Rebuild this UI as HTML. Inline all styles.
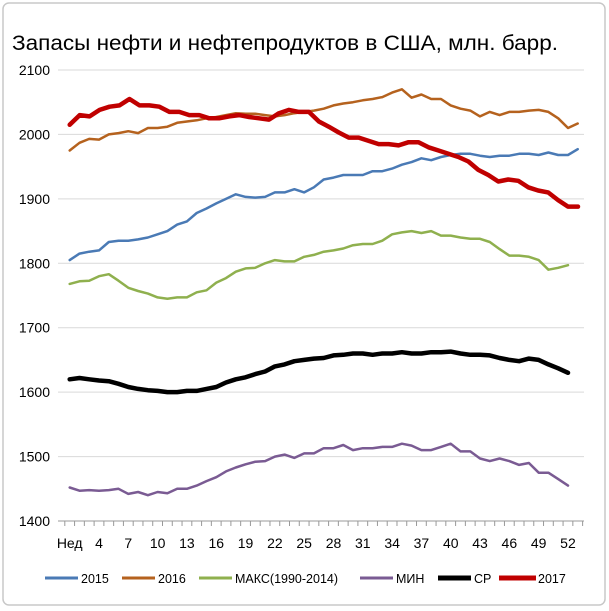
<!DOCTYPE html>
<html><head><meta charset="utf-8"><style>
html,body{margin:0;padding:0;background:#fff;}
svg{display:block;font-family:"Liberation Sans",sans-serif;}
</style></head><body>
<svg id="s" width="609" height="611" viewBox="0 0 609 611" xmlns="http://www.w3.org/2000/svg">
<rect x="0" y="0" width="609" height="611" fill="#fff"/>
<rect x="3" y="3" width="602" height="602" rx="6" fill="#fff" stroke="#c8c8c8" stroke-width="1.5"/>
<text x="12" y="50" font-size="21" fill="#000" textLength="546" lengthAdjust="spacingAndGlyphs">Запасы нефти и нефтепродуктов в США, млн. барр.</text>
<g id="grid" stroke="#d9d9d9" stroke-width="1"></g>
<g id="ylab" font-size="14" fill="#000" text-anchor="end"></g>
<g id="xax"></g>
<g id="series" fill="none" stroke-linejoin="round" stroke-linecap="round"></g>
<g font-size="12.5" fill="#000">
<line x1="45" y1="578" x2="78" y2="578" stroke="#4a7ab5" stroke-width="3"/><text x="81" y="583">2015</text>
<line x1="122" y1="578" x2="155" y2="578" stroke="#b5621e" stroke-width="3"/><text x="158" y="583">2016</text>
<line x1="199" y1="578" x2="232" y2="578" stroke="#8fb04e" stroke-width="3"/><text x="235" y="583">МАКС(1990-2014)</text>
<line x1="360" y1="578" x2="393" y2="578" stroke="#7a5b93" stroke-width="3"/><text x="396" y="583">МИН</text>
<line x1="438" y1="578" x2="471" y2="578" stroke="#000" stroke-width="5"/><text x="474" y="583">СР</text>
<line x1="499" y1="578" x2="536" y2="578" stroke="#c00000" stroke-width="5"/><text x="538" y="583">2017</text>
</g>
</svg>
<script>
var NS="http://www.w3.org/2000/svg";
function el(t,a,p,txt){var e=document.createElementNS(NS,t);for(var k in a)e.setAttribute(k,a[k]);if(txt!==undefined)e.textContent=txt;document.getElementById(p).appendChild(e);return e;}
function Y(v){return 521-(v-1400)*451/700;}
function X(w){return 69.7+(w-1)*9.77;}
for(var v=1500;v<=2100;v+=100){el('line',{x1:58,x2:584,y1:Y(v),y2:Y(v)},'grid');}
for(var v=1400;v<=2100;v+=100){el('text',{x:50,y:Y(v)+5},'ylab',String(v));}
el('line',{x1:58,x2:584,y1:521,y2:521,stroke:'#999','stroke-width':1},'xax');
for(var w=1;w<=54;w++){var x=X(w)-4.9;el('line',{x1:x,x2:x,y1:521,y2:526,stroke:'#999','stroke-width':1},'xax');}
var labs=['Нед'];for(var w=4;w<=52;w+=3)labs.push(String(w));
var i=0;for(var w=1;w<=52;w+=3){el('text',{x:X(w),y:548,'font-size':14,'text-anchor':'middle',fill:'#000'},'xax',labs[i++]);}
var d={
b:[1805,1815,1818,1820,1833,1835,1835,1837,1840,1845,1850,1860,1865,1878,1885,1893,1900,1907,1903,1902,1903,1910,1910,1915,1910,1918,1930,1933,1937,1937,1937,1943,1943,1947,1953,1957,1963,1960,1965,1968,1970,1970,1967,1965,1967,1967,1970,1970,1968,1972,1968,1968,1977],
o:[1975,1987,1993,1992,2000,2002,2005,2002,2010,2010,2012,2018,2020,2022,2025,2027,2030,2033,2032,2032,2030,2028,2030,2033,2035,2037,2040,2045,2048,2050,2053,2055,2058,2065,2070,2057,2062,2055,2055,2045,2040,2037,2028,2035,2030,2035,2035,2037,2038,2035,2025,2010,2017],
g:[1768,1772,1773,1780,1783,1773,1762,1757,1753,1747,1745,1747,1747,1755,1758,1770,1777,1787,1792,1793,1800,1805,1803,1803,1810,1813,1818,1820,1823,1828,1830,1830,1835,1845,1848,1850,1847,1850,1843,1843,1840,1838,1838,1833,1822,1812,1812,1810,1805,1790,1793,1797],
p:[1452,1447,1448,1447,1448,1450,1442,1445,1440,1445,1443,1450,1450,1455,1462,1468,1477,1483,1488,1492,1493,1500,1503,1498,1505,1505,1513,1513,1518,1510,1513,1513,1515,1515,1520,1517,1510,1510,1515,1520,1508,1508,1497,1493,1497,1493,1487,1490,1475,1475,1465,1455],
k:[1620,1622,1620,1618,1617,1613,1608,1605,1603,1602,1600,1600,1602,1602,1605,1608,1615,1620,1623,1628,1632,1640,1643,1648,1650,1652,1653,1657,1658,1660,1660,1658,1660,1660,1662,1660,1660,1662,1662,1663,1660,1658,1658,1657,1653,1650,1648,1652,1650,1643,1637,1630],
r:[2015,2030,2028,2038,2043,2045,2055,2045,2045,2043,2035,2035,2030,2030,2025,2025,2028,2030,2027,2025,2023,2033,2038,2035,2035,2020,2012,2003,1995,1995,1990,1985,1985,1983,1988,1988,1980,1975,1970,1965,1958,1945,1937,1927,1930,1928,1918,1913,1910,1898,1888,1888]};
function line(arr,col,wid,span){var pts=[];var n=arr.length;for(var j=0;j<n;j++){var x=span?69.7+j*(578-69.7)/(n-1):X(j+1);pts.push(x.toFixed(1)+','+Y(arr[j]).toFixed(1));}el('polyline',{points:pts.join(' '),stroke:col,'stroke-width':wid},'series');}
line(d.b,'#4a7ab5',2.5);line(d.o,'#b5621e',2.5);line(d.g,'#8fb04e',2.5);line(d.p,'#7a5b93',2.5);line(d.k,'#000',4.5);line(d.r,'#c00000',4.5,true);
</script>
</body></html>
